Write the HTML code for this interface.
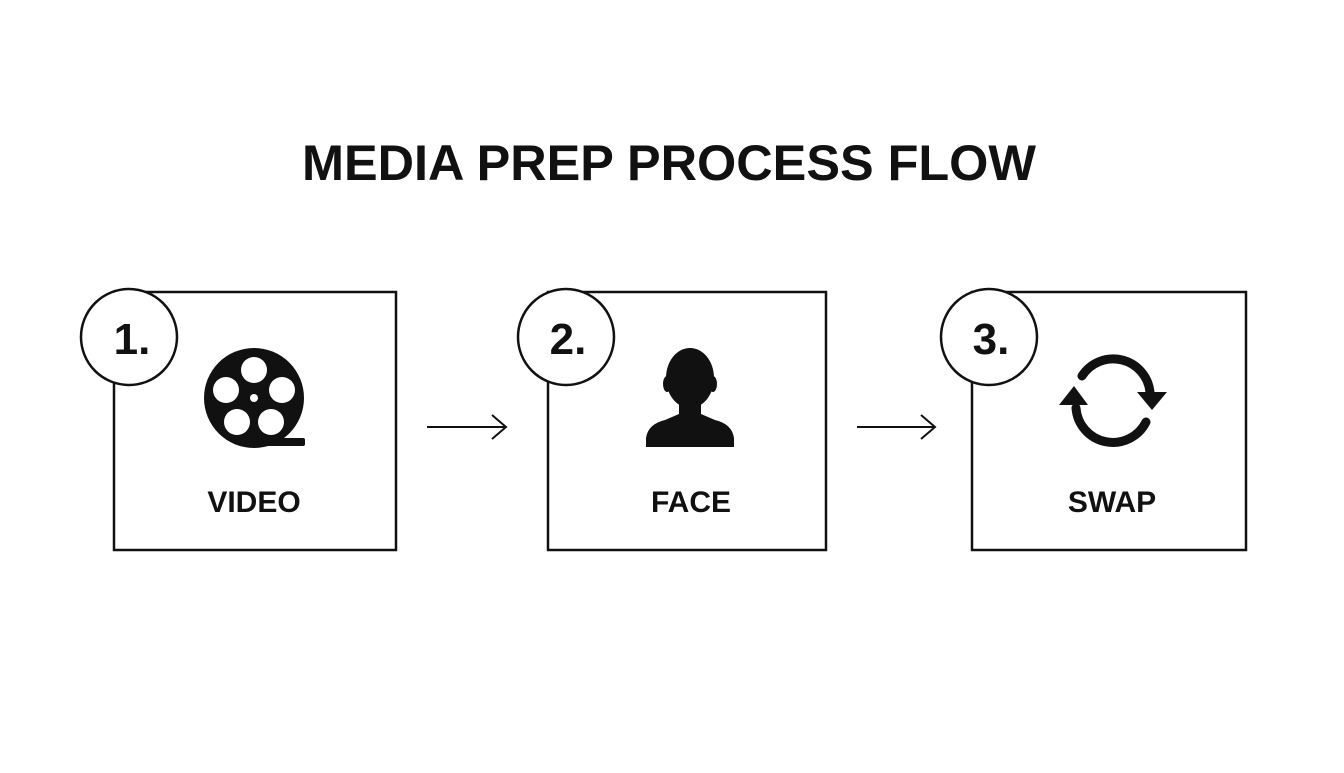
<!DOCTYPE html>
<html><head><style>
html,body{margin:0;padding:0;background:#fff;}
body{width:1344px;height:768px;overflow:hidden;}
</style></head><body>
<svg width="1344" height="768" viewBox="0 0 1344 768" xmlns="http://www.w3.org/2000/svg">
<rect width="1344" height="768" fill="#fff"/>
<text x="302" y="180" textLength="734" lengthAdjust="spacingAndGlyphs" font-family="Liberation Sans, sans-serif" font-weight="bold" font-size="50" fill="#111">MEDIA PREP PROCESS FLOW</text>
<g fill="none" stroke="#111" stroke-width="2.5">
<rect x="114" y="292" width="282" height="258"/>
<rect x="548" y="292" width="278" height="258"/>
<rect x="972" y="292" width="274" height="258"/>
</g>
<g fill="#fff" stroke="#111" stroke-width="2.5">
<circle cx="129" cy="337" r="48"/>
<circle cx="566" cy="337" r="48"/>
<circle cx="989" cy="337" r="48"/>
</g>
<g font-family="Liberation Sans, sans-serif" font-weight="bold" font-size="44" fill="#111" text-anchor="middle">
<text x="132" y="354">1.</text>
<text x="568" y="354">2.</text>
<text x="991" y="354">3.</text>
</g>
<g font-family="Liberation Sans, sans-serif" font-weight="bold" font-size="30" fill="#111" text-anchor="middle">
<text x="254" y="512">VIDEO</text>
<text x="691" y="512">FACE</text>
<text x="1112" y="512">SWAP</text>
</g>
<g stroke="#111" stroke-width="2" fill="none">
<line x1="427" y1="427" x2="505" y2="427"/>
<polyline points="492,415 506,427 492,439"/>
<line x1="857" y1="427" x2="934" y2="427"/>
<polyline points="921,415 935,427 921,439"/>
</g>
<circle cx="254" cy="398" r="50" fill="#111"/>
<rect x="254" y="438" width="51" height="8" rx="2" fill="#111"/>
<g fill="#fff">
<circle cx="254" cy="370" r="13"/>
<circle cx="226" cy="390" r="13"/>
<circle cx="282" cy="390" r="13"/>
<circle cx="237" cy="422" r="13"/>
<circle cx="271" cy="422" r="13"/>
<circle cx="254" cy="398" r="4"/>
</g>
<g fill="#111">
<ellipse cx="690" cy="378" rx="24" ry="30"/>
<ellipse cx="667" cy="384" rx="4" ry="8"/>
<ellipse cx="713" cy="384" rx="4" ry="8"/>
<rect x="679" y="398" width="22" height="20"/>
<path d="M646,447 L646,438 Q648,424 665,420 L679,414 L701,414 L715,420 Q732,424 734,438 L734,447 Z"/>
</g>
<g fill="none" stroke="#111" stroke-width="9" stroke-linecap="round">
<path d="M1082,376 A37,37 0 0 1 1150,392"/>
<path d="M1146,422 A37,37 0 0 1 1076,408"/>
</g>
<g fill="#111">
<polygon points="1137,392 1167,392 1152,410"/>
<polygon points="1059,405 1088,405 1074,386"/>
</g>
</svg>
</body></html>
